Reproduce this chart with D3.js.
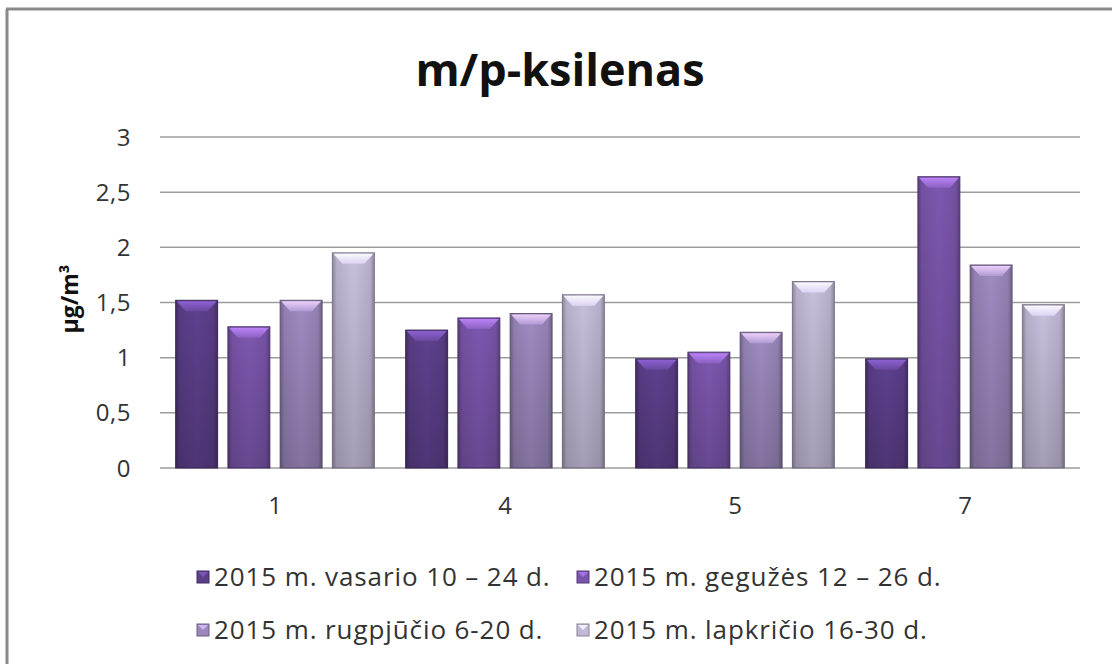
<!DOCTYPE html>
<html><head><meta charset="utf-8">
<script src="https://cdn.jsdelivr.net/npm/d3@7"></script>
<style>html,body{margin:0;padding:0;background:#fff;}svg{display:block;}</style>
</head><body>
<svg id="c" width="1112" height="664"></svg>
<script>
const categories = ["1", "4", "5", "7"];
const seriesNames = ["2015 m. vasario 10 – 24 d.", "2015 m. gegužės 12 – 26 d.", "2015 m. rugpjūčio 6-20 d.", "2015 m. lapkričio 16-30 d."];
const vasario = [1.52, 1.25, 0.99, 0.99];
const geguzes = [1.28, 1.36, 1.05, 2.64];
const rugpjucio = [1.52, 1.40, 1.23, 1.84];
const lapkricio = [1.95, 1.57, 1.69, 1.48];
const yTicks = [0, 0.5, 1, 1.5, 2, 2.5, 3];
const title = "m/p-ksilenas";

const series = [vasario, geguzes, rugpjucio, lapkricio];
const baseColors = ["#5c3f8a", "#7a55ab", "#9a87bb", "#c2b9d6"];

const svg = d3.select("#c");
const font = "'Open Sans', Lato, sans-serif";

svg.append("rect").attr("x", 0).attr("y", 0).attr("width", 1112).attr("height", 664).attr("fill", "#fff");
svg.append("line").attr("x1", 7).attr("x2", 7).attr("y1", 9).attr("y2", 664).attr("stroke", "#8a8a8a").attr("stroke-width", 3);
svg.append("line").attr("x1", 6).attr("x2", 1112).attr("y1", 9).attr("y2", 9).attr("stroke", "#8a8a8a").attr("stroke-width", 3);

const x0 = d3.scaleBand().domain(categories).range([160, 1080]).paddingInner(0).paddingOuter(0);
const x1 = d3.scaleBand().domain(d3.range(4)).range([0, x0.bandwidth()]).paddingInner(0.197).paddingOuter(0.3);
const y = d3.scaleLinear().domain([0, 3]).range([468, 137]);

const defs = svg.append("defs");
baseColors.forEach((c, i) => {
  const col = d3.color(c);
  const g = defs.append("linearGradient").attr("id", "g" + i).attr("x1", "0").attr("x2", "1").attr("y1", "0").attr("y2", "0");
  g.append("stop").attr("offset", "0%").attr("stop-color", col.darker(0.9));
  g.append("stop").attr("offset", "10%").attr("stop-color", col.darker(0.15));
  g.append("stop").attr("offset", "50%").attr("stop-color", col.brighter(0.1));
  g.append("stop").attr("offset", "90%").attr("stop-color", col.darker(0.15));
  g.append("stop").attr("offset", "100%").attr("stop-color", col.darker(0.9));
  const v = defs.append("linearGradient").attr("id", "v" + i).attr("x1", "0").attr("x2", "0").attr("y1", "0").attr("y2", "1");
  v.append("stop").attr("offset", "0%").attr("stop-color", "#000").attr("stop-opacity", 0);
  v.append("stop").attr("offset", "100%").attr("stop-color", "#000").attr("stop-opacity", 0.18);
  const t = defs.append("linearGradient").attr("id", "t" + i).attr("x1", "0").attr("x2", "0").attr("y1", "0").attr("y2", "1");
  t.append("stop").attr("offset", "0%").attr("stop-color", col.brighter(1.3));
  t.append("stop").attr("offset", "100%").attr("stop-color", col.brighter(0.4));
});

svg.append("g").selectAll("line").data(yTicks).join("line")
  .attr("x1", 160).attr("x2", 1080)
  .attr("y1", d => y(d)).attr("y2", d => y(d))
  .attr("stroke", "#9c9c9c").attr("stroke-width", 1.5);

const fmt = d => String(d).replace(".", ",");
svg.append("g").selectAll("text").data(yTicks).join("text")
  .attr("x", 131).attr("y", d => y(d)).attr("dy", "0.36em")
  .attr("text-anchor", "end").attr("font-family", font).attr("font-size", 24).attr("letter-spacing", 0.5).attr("fill", "#333")
  .text(fmt);

svg.append("text").attr("transform", "translate(70,299) rotate(-90)")
  .attr("text-anchor", "middle").attr("dy", "0.35em")
  .attr("font-family", font).attr("font-size", 23).attr("font-weight", "bold").attr("fill", "#111")
  .text("µg/m³");

const groups = svg.append("g").selectAll("g").data(categories).join("g")
  .attr("transform", d => `translate(${x0(d)},0)`);
groups.each(function(cat, ci) {
  const g = d3.select(this);
  series.forEach((s, si) => {
    const bx = x1(si), bw = x1.bandwidth();
    const top = y(s[ci]), bot = y(0);
    const bar = g.append("g");
    bar.append("rect").attr("x", bx).attr("y", top).attr("width", bw).attr("height", bot - top)
      .attr("fill", `url(#g${si})`).attr("stroke", d3.color(baseColors[si]).darker(1.3)).attr("stroke-width", 1);
    bar.append("rect").attr("x", bx).attr("y", top).attr("width", bw).attr("height", bot - top)
      .attr("fill", `url(#v${si})`);
    const cap = 11, inset = 10;
    bar.append("path")
      .attr("d", `M${bx + 1},${top + 1} L${bx + bw - 1},${top + 1} L${bx + bw - inset},${top + cap} L${bx + inset},${top + cap} Z`)
      .attr("fill", `url(#t${si})`).attr("opacity", 0.9);
  });
});

svg.append("g").selectAll("text").data(categories).join("text")
  .attr("x", d => x0(d) + x0.bandwidth() / 2).attr("y", 505).attr("dy", "0.36em")
  .attr("text-anchor", "middle").attr("font-family", font).attr("font-size", 24).attr("fill", "#333")
  .text(d => d);

svg.append("text").attr("x", 560).attr("y", 86).attr("text-anchor", "middle")
  .attr("font-family", font).attr("font-size", 45).attr("font-weight", "bold").attr("fill", "#111")
  .text(title);

const legPos = [[197, 577], [577, 577], [197, 630], [577, 630]];
const leg = svg.append("g").selectAll("g").data(seriesNames).join("g")
  .attr("transform", (d, i) => `translate(${legPos[i][0]},${legPos[i][1]})`);
leg.append("rect").attr("x", 0).attr("y", -6).attr("width", 12).attr("height", 12)
  .attr("fill", (d, i) => baseColors[i]).attr("stroke", (d, i) => d3.color(baseColors[i]).darker(1)).attr("stroke-width", 1);
leg.append("path").attr("d", "M1,-5 L11,-5 L6,0 Z").attr("fill", (d, i) => d3.color(baseColors[i]).brighter(1)).attr("opacity", 0.8);
leg.append("text").attr("x", 17).attr("y", 0).attr("dy", "0.36em")
  .attr("font-family", font).attr("font-size", 26).attr("letter-spacing", 0.9).attr("fill", "#333")
  .text(d => d);
</script>
</body></html>
